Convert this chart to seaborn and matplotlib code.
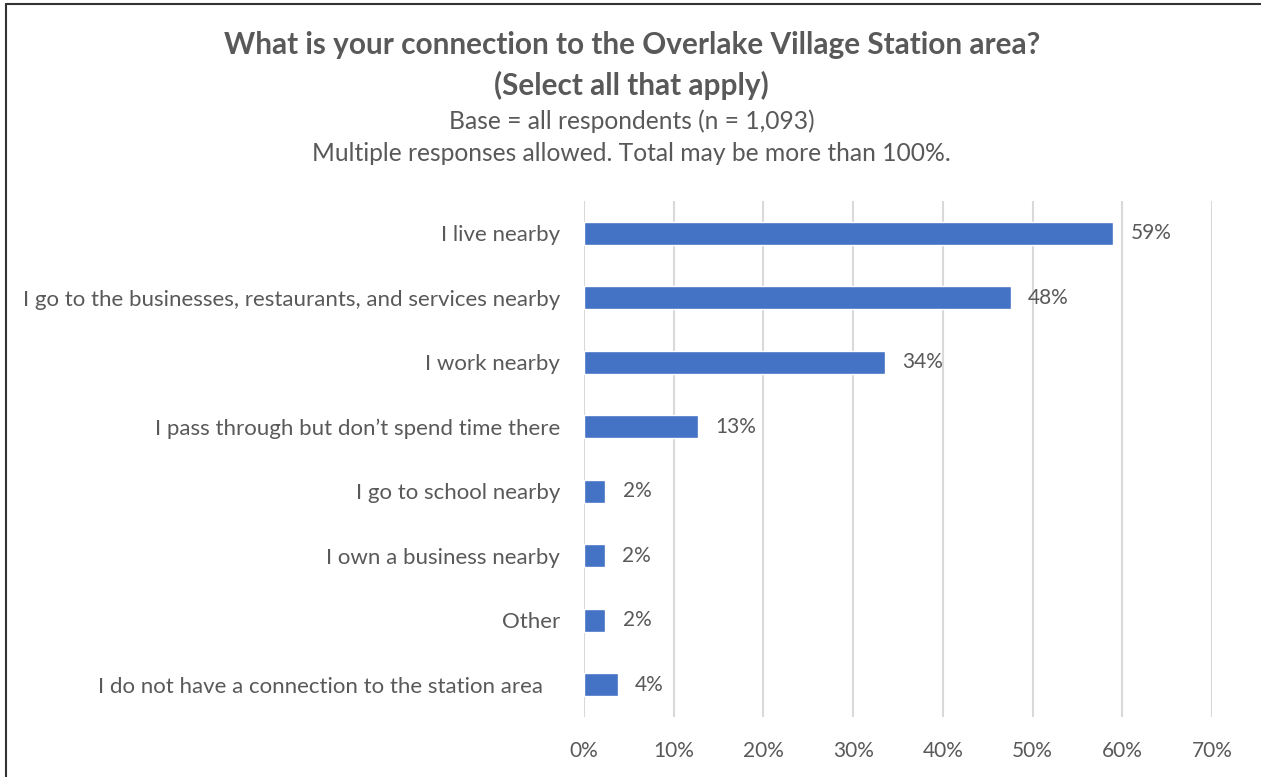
import matplotlib
matplotlib.use("Agg")
import matplotlib.pyplot as plt
from matplotlib.lines import Line2D
import seaborn as sns
import pandas as pd

categories = [
    "I live nearby",
    "I go to the businesses, restaurants, and services nearby",
    "I work nearby",
    "I pass through but don\u2019t spend time there",
    "I go to school nearby",
    "I own a business nearby",
    "Other",
    "I do not have a connection to the station area   ",
]
shares = [59.0, 47.6, 33.6, 12.7, 2.4, 2.3, 2.4, 3.8]
x_ticks = [0, 10, 20, 30, 40, 50, 60, 70]

title_line1 = "What is your connection to the Overlake Village Station area?"
title_line2 = "(Select all that apply)"
subtitle1 = "Base = all respondents (n = 1,093)"
subtitle2 = "Multiple responses allowed. Total may be more than 100%."

sns.set_theme(style="white")
plt.rcParams["font.family"] = ["Lato", "DejaVu Sans"]

TEXT = "#595959"
BAR = "#4472C4"
GRID = "#D9D9D9"

df = pd.DataFrame({"category": categories, "share": shares})

fig = plt.figure(figsize=(12.61, 7.77), dpi=100)
ax = fig.add_axes([0.4631, 0.0772, 0.4980, 0.6641])

sns.barplot(data=df, x="share", y="category", orient="h", color=BAR,
            width=0.35, saturation=1, ax=ax, zorder=3)

ax.set_xlim(0, 70)
ax.set_xticks(x_ticks)
ax.set_xticklabels([f"{t}%" for t in x_ticks])
ax.xaxis.grid(True, color=GRID, linewidth=1.5, zorder=0)
ax.set_axisbelow(True)
for s in ax.spines.values():
    s.set_visible(False)
ax.set_xlabel("")
ax.set_ylabel("")
ax.tick_params(axis="x", length=0, pad=17, labelsize=15, labelcolor=TEXT)
ax.tick_params(axis="y", length=0, pad=17, labelsize=16, labelcolor=TEXT)

for patch, v in zip(ax.patches, shares):
    ax.text(patch.get_width() + 1.9, patch.get_y() + patch.get_height() / 2,
            f"{round(v):.0f}%", va="center", ha="left", fontsize=15, color=TEXT)

fig.text(0.501, 1 - 45 / 777, title_line1, ha="center", va="center", fontsize=21.4,
         fontweight="bold", color=TEXT)
fig.text(0.501, 1 - 85 / 777, title_line2, ha="center", va="center", fontsize=21.4,
         fontweight="bold", color=TEXT)
fig.text(0.501, 0.844, subtitle1, ha="center", va="center", fontsize=17.7, color=TEXT)
fig.text(0.501, 0.803, subtitle2, ha="center", va="center", fontsize=17.7, color=TEXT)

# frame lines along top and left edges
fig.add_artist(Line2D([0.0048, 1.0], [0.9945, 0.9945], transform=fig.transFigure,
                      color="#333333", linewidth=1.5))
fig.add_artist(Line2D([0.0048, 0.0048], [0.0, 0.9945], transform=fig.transFigure,
                      color="#333333", linewidth=1.5))

fig.savefig("out.png", dpi=100, facecolor="white")
